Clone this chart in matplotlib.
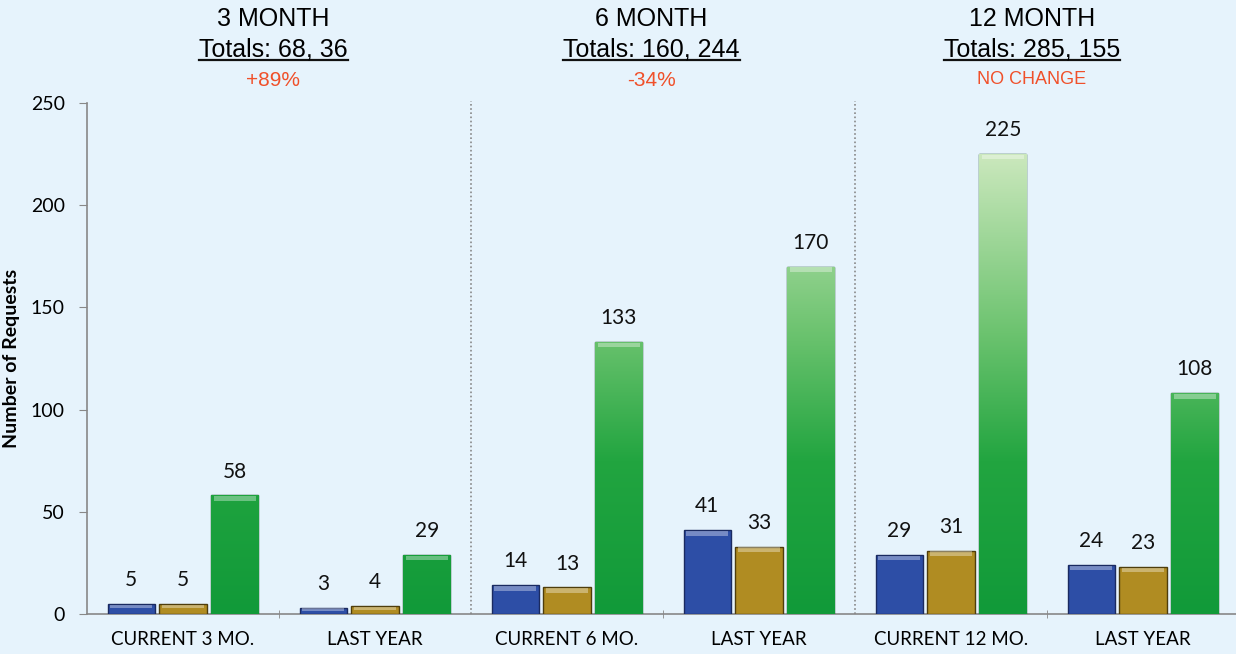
import numpy as np
from matplotlib import pyplot as plt
from matplotlib.lines import Line2D
from matplotlib.colors import LinearSegmentedColormap

# values
categories = ['CURRENT 3 MO.', 'LAST YEAR', 'CURRENT 6 MO.', 'LAST YEAR', 'CURRENT 12 MO.', 'LAST YEAR']
blue_vals = [5, 3, 14, 41, 29, 24]
gold_vals = [5, 4, 13, 33, 31, 23]
green_vals = [58, 29, 133, 170, 225, 108]

group_titles = ['3 MONTH', '6 MONTH', '12 MONTH']
group_totals = ['Totals: 68, 36', 'Totals: 160, 244', 'Totals: 285, 155']
group_change = ['+89%', '-34%', 'NO CHANGE']

bg = '#e6f3fc'
blue = '#2d4ea6'
gold = '#b08c22'
orange = '#f0502a'

fig = plt.figure(figsize=(12.36, 6.54), dpi=100, facecolor=bg)
ax = fig.add_axes([87/1236, 40/654, 1152/1236, 511/654])
ax.set_facecolor(bg)

x = np.arange(len(categories))
w = 0.245
off = 0.27

bb_ = ax.bar(x - off, blue_vals, w, color=blue, edgecolor='#1a2a60', linewidth=1.0, zorder=3)
gd_ = ax.bar(x, gold_vals, w, color=gold, edgecolor='#4e3d0c', linewidth=1.0, zorder=3)
gb = ax.bar(x + off, green_vals, w, color='#15a03c', edgecolor='#0b3f18', linewidth=1.0, zorder=3)

# green bars fade to light green toward the top of the chart (absolute height)
grad = np.linspace(0, 1, 256).reshape(-1, 1)
cmap = LinearSegmentedColormap.from_list('g', [(0, '#119a39'), (0.3, '#22a540'),
                                               (0.55, '#6cc36f'), (0.9, '#cbe8bd'), (1, '#dff2d4')])
for b in gb:
    bx, bw, bh = b.get_x(), b.get_width(), b.get_height()
    im = ax.imshow(grad, cmap=cmap, aspect='auto', extent=[bx, bx + bw, 0, 250],
                   origin='lower', zorder=3.5)
    im.set_clip_path(b)

# light bevel strip on top of every bar
for bars in [bb_, gd_, gb]:
    for b in bars:
        h = b.get_height()
        ax.bar(b.get_x() + b.get_width() / 2, min(2.2, h * 0.35), b.get_width() * 0.9,
               bottom=h - min(2.6, h * 0.45), color='white', alpha=0.35, linewidth=0, zorder=4)

# value labels
for vals, dx in [(blue_vals, -off), (gold_vals, 0), (green_vals, off)]:
    for i, v in enumerate(vals):
        ax.annotate(str(v), (i + dx, v), xytext=(0, 10), textcoords='offset points',
                    ha='center', va='bottom', fontsize=15, family='Lato', color='#111111')

ax.set_xlim(-0.5, 5.5)
ax.set_ylim(0, 250)
ax.set_yticks([0, 50, 100, 150, 200, 250])
ax.set_xticks(x)
ax.set_xticklabels(categories, fontsize=13.5, family='Lato')
ax.tick_params(axis='x', length=0, pad=12)
ax.set_xticks([0.5, 2.5, 4.5], minor=True)
ax.tick_params(axis='x', which='minor', length=6, direction='inout', color='#888888')
ax.tick_params(axis='y', length=6, color='#888888', labelsize=14, pad=10)
for lab in ax.get_yticklabels():
    lab.set_family('Lato')
ax.set_ylabel('Number of Requests', fontsize=14, fontweight='bold', family='Lato', labelpad=8)

for s in ['top', 'right']:
    ax.spines[s].set_visible(False)
for s in ['left', 'bottom']:
    ax.spines[s].set_color('#888888')
    ax.spines[s].set_linewidth(1.2)

# dotted separators between groups
for sx in [1.5, 3.5]:
    ax.plot([sx, sx], [0, 251], color='#888888', linestyle=(0, (1, 1.5)), linewidth=1.2,
            clip_on=False, zorder=2)

# group headings
centers = [0.47, 2.44, 4.42]
fig.canvas.draw()
renderer = fig.canvas.get_renderer()
for c, t1, t2, t3 in zip(centers, group_titles, group_totals, group_change):
    xf = fig.transFigure.inverted().transform(ax.transData.transform((c, 0)))[0]
    fig.text(xf, 1 - 19/654, t1, ha='center', va='center', fontsize=18, family='Liberation Sans')
    tt = fig.text(xf, 1 - 49/654, t2, ha='center', va='center', fontsize=18, family='Liberation Sans')
    fig.text(xf, 1 - 80/654, t3, ha='center', va='center', fontsize=15 if t3 != 'NO CHANGE' else 13,
             family='Liberation Sans', color=orange)
    bb = tt.get_window_extent(renderer).transformed(fig.transFigure.inverted())
    fig.add_artist(Line2D([bb.x0, bb.x1], [bb.y0 + 0.001, bb.y0 + 0.001], color='#111111',
                          linewidth=1.6, transform=fig.transFigure))

fig.savefig('out.png', dpi=100, facecolor=bg)
